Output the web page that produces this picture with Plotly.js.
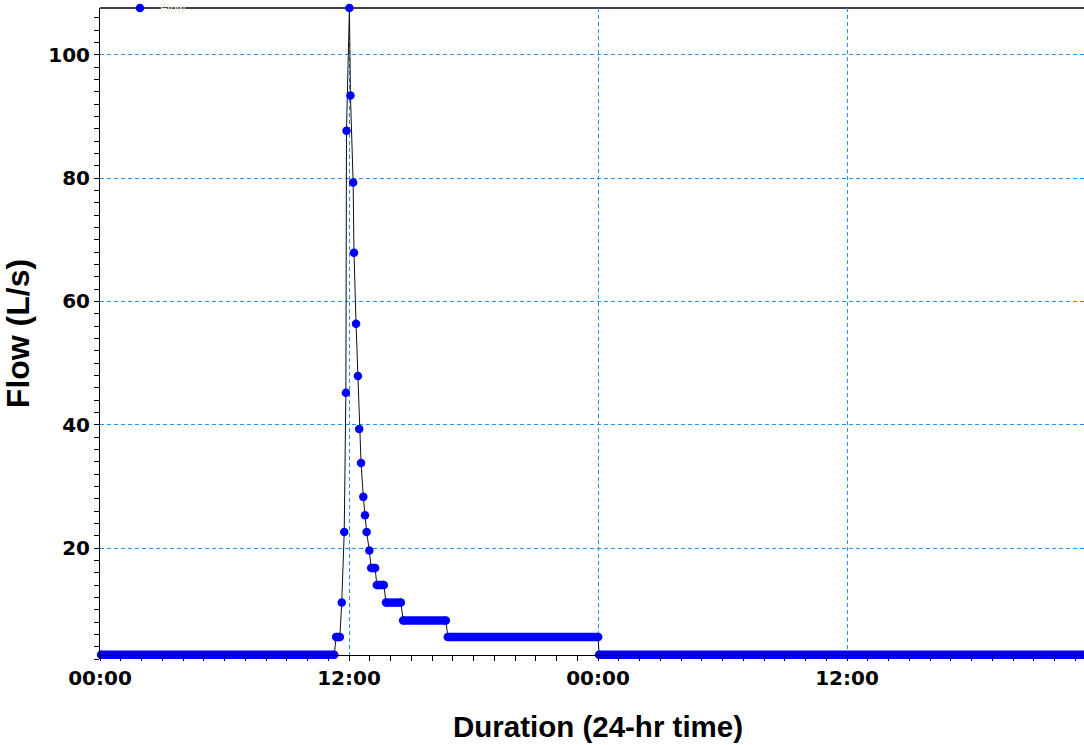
<!DOCTYPE html>
<html>
<head>
<meta charset="utf-8">
<script src="https://cdn.plot.ly/plotly-3.0.1.min.js"></script>
<style>
  html, body { margin: 0; padding: 0; overflow: hidden; background: #fff; }
  #chart { width: 1100px; height: 745px; }
</style>
</head>
<body>
<div id="chart"></div>
<script>
// ---- Data (hours since start, flow in L/s) ----
// Flat stretches of the hydrograph (dense samples at a constant flow)
const stepStart = [0.05, 11.38, 13.07, 13.34, 13.78, 14.61, 16.76, 24.05];
const stepEnd   = [11.29, 11.56, 13.26, 13.68, 14.50, 16.67, 24.01, 48.2];
const stepFlow  = [2.7, 5.56, 16.75, 14.0, 11.15, 8.26, 5.56, 2.7];

// Individual samples on the rising and falling limbs
const peakHours = [11.65, 11.77, 11.85, 11.88, 12.02, 12.07, 12.20, 12.24, 12.34,
                   12.43, 12.49, 12.58, 12.69, 12.77, 12.85, 12.98];
const peakFlow  = [11.17, 22.6, 45.2, 87.7, 107.6, 93.4, 79.3, 67.9, 56.4,
                   47.9, 39.3, 33.8, 28.3, 25.3, 22.6, 19.6];

// Axis ticks
const tickHours  = [0, 12, 24, 36, 48];
const tickLabels = ['00:00', '12:00', '00:00', '12:00', '00:00'];
const flowRange  = [2.0, 107.6];
const seriesName = 'Flow';

// ---- Build traces ----
const pts = [];
for (let i = 0; i < stepStart.length; i++) {
  pts.push([stepStart[i], stepFlow[i]]);
  pts.push([stepEnd[i], stepFlow[i]]);
}
for (let i = 0; i < peakHours.length; i++) pts.push([peakHours[i], peakFlow[i]]);
pts.sort((a, b) => a[0] - b[0]);

const lineTrace = {
  x: pts.map(p => p[0]), y: pts.map(p => p[1]),
  type: 'scatter', mode: 'lines',
  line: { color: '#111', width: 1 },
  showlegend: false, hoverinfo: 'skip'
};

const bx = [], by = [];
for (let i = 0; i < stepStart.length; i++) {
  bx.push(stepStart[i], stepEnd[i], null);
  by.push(stepFlow[i], stepFlow[i], null);
}
const bandTrace = {
  x: bx, y: by, type: 'scatter', mode: 'lines+markers',
  line: { color: '#0000ff', width: 8.5 },
  marker: { color: '#0000ff', size: 8.5 },
  cliponaxis: false, showlegend: false, connectgaps: false
};

const dotTrace = {
  x: peakHours, y: peakFlow, type: 'scatter', mode: 'markers',
  marker: { color: '#0000ff', size: 8.5 },
  cliponaxis: false, name: seriesName, showlegend: true
};

const gridColor = 'rgb(30,144,255)';
const tickFont = { family: 'DejaVu Sans', size: 20, color: '#000', weight: 'bold' };
const baseFlow = stepFlow[0];
const axisPos = (baseFlow - flowRange[0]) / (flowRange[1] - flowRange[0]);

const layout = {
  width: 1100, height: 745,
  margin: { l: 100, r: 4, t: 8, b: 86, autoexpand: false },
  paper_bgcolor: '#fff', plot_bgcolor: '#fff',
  showlegend: true,
  legend: {
    x: 0.02, xanchor: 'left', y: 1, yanchor: 'middle',
    bgcolor: 'rgba(0,0,0,0)', borderwidth: 0,
    font: { family: 'Liberation Sans', size: 12, color: '#f1e7dc' }
  },
  shapes: [{
    type: 'line', xref: 'paper', yref: 'paper', x0: 0, x1: 1, y0: 1, y1: 1,
    line: { color: '#000', width: 1.5 }, layer: 'below'
  }],
  xaxis: {
    range: [0, 48], anchor: 'free', position: axisPos,
    tickvals: tickHours, ticktext: tickLabels,
    ticks: 'outside', ticklen: 5, tickwidth: 1, tickcolor: '#000',
    minor: { dtick: 1, ticks: 'outside', ticklen: 5, tickcolor: '#000', showgrid: false },
    showline: true, linecolor: '#000', linewidth: 1,
    showgrid: true, gridcolor: gridColor, griddash: '4px,3px', gridwidth: 1,
    zeroline: false, tickfont: tickFont,
    title: { text: 'Duration (24-hr time)', standoff: 27,
             font: { family: 'Liberation Sans', size: 29.5, color: '#000', weight: 'bold' } }
  },
  yaxis: {
    range: flowRange, tick0: 0, dtick: 20,
    ticks: 'outside', ticklen: 5, tickwidth: 1, tickcolor: '#000',
    minor: { dtick: 2, ticks: 'outside', ticklen: 5, tickcolor: '#000', showgrid: false },
    showline: true, linecolor: '#000', linewidth: 1,
    showgrid: true, gridcolor: gridColor, griddash: '4px,3px', gridwidth: 1,
    zeroline: false, tickfont: tickFont,
    title: { text: 'Flow (L/s)', standoff: 13,
             font: { family: 'Liberation Sans', size: 32, color: '#000', weight: 'bold' } }
  }
};

Plotly.newPlot('chart', [lineTrace, bandTrace, dotTrace], layout, { displayModeBar: false, staticPlot: true });
</script>
</body>
</html>
